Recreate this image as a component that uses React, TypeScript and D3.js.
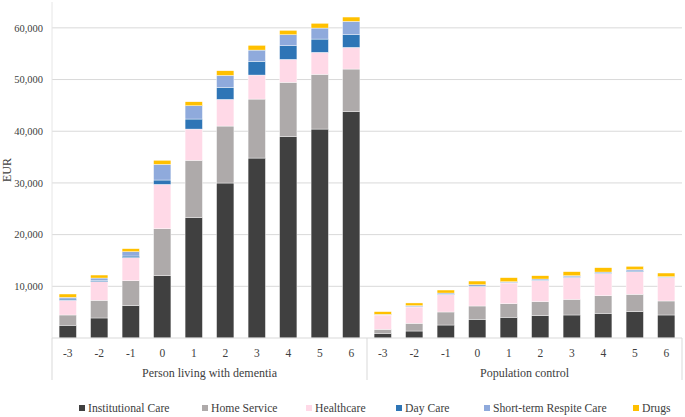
import React from "react";
import * as d3 from "d3";

const years = ["-3", "-2", "-1", "0", "1", "2", "3", "4", "5", "6"];
const groups = ["Person living with dementia", "Population control"];
const seriesNames = ["Institutional Care", "Home Service", "Healthcare", "Day Care", "Short-term Respite Care", "Drugs"];
const seriesColors = ["#404040", "#AEAAAA", "#FFD9E7", "#2E75B6", "#8FAADC", "#FFC000"];

// Dementia group, per year -3..6
const dementiaInstitutional = [2460, 3870, 6250, 12050, 23270, 29980, 34810, 38940, 40420, 43770];
const dementiaHome = [1990, 3420, 4840, 9090, 11100, 11020, 11410, 10510, 10580, 8260];
const dementiaHealth = [2840, 3600, 4450, 8580, 6050, 5160, 4650, 4450, 4260, 4190];
const dementiaDay = [250, 270, 320, 840, 1940, 2320, 2640, 2640, 2570, 2450];
const dementiaRespite = [330, 440, 840, 3030, 2570, 2320, 2190, 2130, 2130, 2580];
const dementiaDrugs = [640, 580, 580, 780, 770, 900, 910, 840, 910, 840];

// Population control group
const controlInstitutional = [900, 1350, 2510, 3610, 4000, 4320, 4450, 4770, 5090, 4450];
const controlHome = [780, 1490, 2520, 2580, 2640, 2710, 3030, 3420, 3360, 2710];
const controlHealth = [2770, 3160, 3350, 3740, 4000, 4060, 4250, 4250, 4380, 4570];
const controlDay = [40, 60, 80, 90, 90, 90, 100, 100, 140, 60];
const controlRespite = [80, 200, 240, 290, 160, 230, 220, 220, 250, 70];
const controlDrugs = [530, 520, 580, 710, 780, 640, 780, 840, 640, 710];

const yTicks = [10000, 20000, 30000, 40000, 50000, 60000];

const W = 685, H = 417;
const left = 52, right = 682, top = 2, bottom = 338;
const FONT = '"Liberation Serif"';

export default function App() {
  const groupSeries = [
    [dementiaInstitutional, dementiaHome, dementiaHealth, dementiaDay, dementiaRespite, dementiaDrugs],
    [controlInstitutional, controlHome, controlHealth, controlDay, controlRespite, controlDrugs],
  ];
  const rows: any[] = [];
  groupSeries.forEach((ser, gi) => {
    years.forEach((yr, i) => {
      const r: any = { key: `${gi}_${yr}`, year: yr, group: gi };
      seriesNames.forEach((s, si) => (r[s] = ser[si][i]));
      rows.push(r);
    });
  });
  const stacked = d3.stack().keys(seriesNames)(rows);

  const x = d3.scaleBand().domain(rows.map((r) => r.key)).range([left, right]).paddingInner(0.45).paddingOuter(0.225);
  const y = d3.scaleLinear().domain([0, 65000]).range([bottom, top]);
  const fmt = d3.format(",");
  const groupWidth = (right - left) / 2;

  const legendX = [79, 202, 306, 396, 484, 633];
  const ts = { fontFamily: FONT };

  return (
    <svg width={W} height={H} style={{ position: "absolute", left: 0, top: 0, background: "#fff" }}>
      {yTicks.map((t) => (
        <g key={t}>
          <line x1={left} x2={right} y1={y(t)} y2={y(t)} stroke="#D9D9D9" strokeWidth={1} />
          <text style={ts} x={43} y={y(t)} dy="0.35em" textAnchor="end" fontSize={10.5} fill="#404040">{fmt(t)}</text>
        </g>
      ))}
      <line x1={left} x2={left} y1={top} y2={bottom} stroke="#E6E6E6" />
      {stacked.map((layer, li) => (
        <g key={layer.key} fill={seriesColors[li]}>
          {layer.map((d: any) => (
            <rect key={d.data.key} x={x(d.data.key)} y={y(d[1])} width={x.bandwidth()} height={Math.max(0, y(d[0]) - y(d[1]))} stroke="#fff" strokeWidth={0.4} />
          ))}
        </g>
      ))}
      <line x1={left} x2={right} y1={bottom} y2={bottom} stroke="#D9D9D9" />
      {[0, 1, 2].map((i) => (
        <line key={i} x1={left + i * groupWidth} x2={left + i * groupWidth} y1={bottom} y2={380} stroke="#D9D9D9" />
      ))}
      {rows.map((r) => (
        <text style={ts} key={r.key} x={(x(r.key) as number) + x.bandwidth() / 2} y={353} dy="0.35em" textAnchor="middle" fontSize={11.5} fill="#404040">{r.year}</text>
      ))}
      {groups.map((g, gi) => (
        <text style={ts} key={g} x={left + groupWidth * (gi + 0.5)} y={373} dy="0.35em" textAnchor="middle" fontSize={12} fill="#404040">{g}</text>
      ))}
      <text style={ts} transform={`translate(7,170) rotate(-90)`} textAnchor="middle" dy="0.35em" fontSize={12} fill="#404040">EUR</text>
      {seriesNames.map((s, i) => (
        <g key={s}>
          <rect x={legendX[i]} y={405} width={6} height={6} fill={seriesColors[i]} />
          <text style={ts} x={legendX[i] + 9} y={408} dy="0.35em" fontSize={11.7} fill="#404040">{s}</text>
        </g>
      ))}
    </svg>
  );
}
